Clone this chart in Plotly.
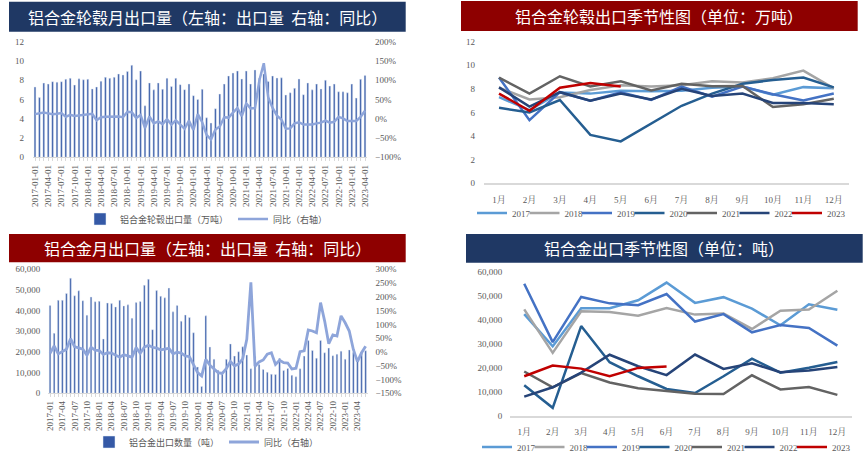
import plotly.graph_objects as go

# ---------------- data ----------------
months_cn = ["1月", "2月", "3月", "4月", "5月", "6月", "7月", "8月", "9月", "10月", "11月", "12月"]
years = ["2017", "2018", "2019", "2020", "2021", "2022", "2023"]

# 铝合金轮毂出口量（万吨）
hub_2017 = [7.3, 6.2, 7.7, 7.6, 7.85, 7.8, 7.85, 8.1, 8.2, 7.5, 8.15, 8.05]
hub_2018 = [8.1, 7.1, 7.3, 7.9, 8.3, 8.2, 8.3, 8.65, 8.55, 8.9, 9.55, 8.05]
hub_2019 = [8.96, 5.35, 7.72, 7.0, 7.72, 7.06, 8.2, 7.35, 8.2, 7.54, 7.02, 7.61]
hub_2020 = [6.4, 6.0, 7.06, 4.1, 3.55, 5.05, 6.57, 7.6, 8.44, 8.75, 8.96, 8.13]
hub_2021 = [8.96, 7.6, 9.07, 8.2, 8.65, 7.87, 8.44, 8.23, 8.25, 6.47, 6.7, 7.16]
hub_2022 = [8.13, 6.5, 7.72, 7.0, 7.6, 7.1, 8.0, 7.4, 7.6, 6.8, 6.8, 6.7]
hub_2023 = [7.6, 6.15, 8.1, 8.5, 8.2]
hub_bar_2023 = [7.6, 6.15, 8.1, 8.5]  # monthly bar chart ends at 2023-04

# 同比（%） for the hub chart, 2017-01 .. 2023-04
hub_yoy_2017 = [12, 14, 16, 14, 12, 13, 15, 5, 10, 7, 8, 10]
hub_yoy_2018 = [11, 13, -4, 4, 5, 5, 6, 6, 4, 18, 17, 2]
hub_yoy_2019 = [10, -24, 6, -12, -7, -14, -1, -15, -4, -15, -26, -5]
hub_yoy_2020 = [-29, 12, -9, -42, -54, -28, -20, 4, 3, 16, 28, 7]
hub_yoy_2021 = [40, 27, 28, 100, 144, 56, 28, 8, -2, -26, -25, -12]
hub_yoy_2022 = [-9, -15, -15, -15, -12, -10, -5, -10, -8, 5, 1, -6]
hub_yoy_2023 = [-6, -6, 5, 21]

# 铝合金出口数量（吨）
al_2017 = [42500, 29000, 45000, 45000, 48300, 55700, 47200, 49600, 44800, 37800, 46600, 44300]
al_2018 = [44500, 26300, 43700, 43400, 41800, 45000, 42300, 42800, 36300, 43900, 44400, 52300]
al_2019 = [55200, 30800, 49700, 47000, 46200, 50900, 39400, 42500, 34900, 37900, 36700, 29300]
al_2020 = [12700, 3300, 37500, 22400, 16500, 11200, 9500, 16500, 23900, 18000, 20100, 22500]
al_2021 = [18500, 11900, 17800, 13900, 11500, 10200, 9200, 9100, 16900, 11000, 12000, 8700]
al_2022 = [8000, 11900, 18000, 25500, 20700, 17000, 25600, 19600, 21900, 18200, 18900, 20400]
al_2023 = [16500, 21000, 19700, 16500, 20000, 20600]

# 同比（%） for the alloy chart, 2017-01 .. 2023-06
al_yoy_2017 = [-5, 22, -7, 1, 10, 48, 19, 15, 10, -12, 17, 7]
al_yoy_2018 = [5, -9, -3, -4, -13, -19, -10, -14, -19, 16, -5, 18]
al_yoy_2019 = [24, 17, 14, 8, 11, 13, -7, -1, -4, -14, -17, -44]
al_yoy_2020 = [-75, -87, -27, -48, -60, -75, -78, -61, -35, -50, -44, -25]
al_yoy_2021 = [46, 253, -52, -36, -29, -8, -3, -45, -30, -39, -40, -62]
al_yoy_2022 = [-59, 1, 4, 80, 76, 70, 179, 112, 30, 62, 58, 131]
al_yoy_2023 = [106, 76, 9, -35, -3, 21]

hub_season = [hub_2017, hub_2018, hub_2019, hub_2020, hub_2021, hub_2022, hub_2023]
al_season = [al_2017, al_2018, al_2019, al_2020, al_2021, al_2022, al_2023]
season_colors = ["#5B9BD5", "#A5A5A5", "#4472C4", "#255E91", "#636363", "#264478", "#C00000"]

# monthly series assembled from the yearly lists
hub_bar = hub_2017 + hub_2018 + hub_2019 + hub_2020 + hub_2021 + hub_2022 + hub_bar_2023
hub_yoy = hub_yoy_2017 + hub_yoy_2018 + hub_yoy_2019 + hub_yoy_2020 + hub_yoy_2021 + hub_yoy_2022 + hub_yoy_2023
al_bar = al_2017 + al_2018 + al_2019 + al_2020 + al_2021 + al_2022 + al_2023
al_yoy = al_yoy_2017 + al_yoy_2018 + al_yoy_2019 + al_yoy_2020 + al_yoy_2021 + al_yoy_2022 + al_yoy_2023

hub_dates = [f"{2017 + i // 12}-{i % 12 + 1:02d}-01" for i in range(len(hub_bar))]
al_dates = [f"{2017 + i // 12}-{i % 12 + 1:02d}" for i in range(len(al_bar))]
hub_ticktext = [d if i % 3 == 0 else "" for i, d in enumerate(hub_dates)]
al_ticktext = [d if i % 3 == 0 and i < 76 else "" for i, d in enumerate(al_dates)]

# ---------------- style ----------------
W, H = 866, 459
NAVY = "#1F3864"
DRED = "#8E0000"
BAR = "#3559A6"
YOY = "#8EA5DA"
GRAY = "#595959"
CLEAR = "rgba(0,0,0,0)"
SERIF = "Liberation Serif, Noto Serif CJK SC, Noto Sans CJK SC, serif"
CJK = "Noto Sans CJK SC, sans-serif"


def px(x):
    return x / W


def py(y):
    return 1 - y / H


tickfont = dict(family=SERIF, size=9, color=GRAY)
legend_common = dict(xanchor="left", yanchor="middle", orientation="h", bgcolor=CLEAR,
                     borderwidth=0, tracegroupgap=0)

fig = go.Figure()
legends = {}

# chart 1
fig.add_trace(go.Bar(x=hub_dates, y=hub_bar, marker_color=BAR, name="铝合金轮毂出口量（万吨）",
                     xaxis="x", yaxis="y", legend="legend"))
fig.add_trace(go.Scatter(x=hub_dates, y=hub_yoy, mode="lines", line=dict(color=YOY, width=2.5),
                         name="同比（右轴）", xaxis="x", yaxis="y2", legend="legend"))
legends["legend"] = dict(x=px(80), y=py(219), font=dict(family=CJK, size=9, color=GRAY), **legend_common)

# chart 3
fig.add_trace(go.Bar(x=al_dates, y=al_bar, marker_color=BAR, name="铝合金出口数量（吨）",
                     xaxis="x3", yaxis="y4", legend="legend2"))
fig.add_trace(go.Scatter(x=al_dates, y=al_yoy, mode="lines", line=dict(color=YOY, width=2.8),
                         name="同比（右轴）", xaxis="x3", yaxis="y5", legend="legend2"))
legends["legend2"] = dict(x=px(89), y=py(442), font=dict(family=CJK, size=9, color=GRAY), **legend_common)

# seasonal charts: one small legend per year so the entries sit close together
leg_idx = 3
for season, xa, ya, leg_x0, leg_y in [(hub_season, "x2", "y3", 472, 213),
                                      (al_season, "x4", "y6", 477, 447)]:
    for k, (yr, vals, c) in enumerate(zip(years, season, season_colors)):
        lname = f"legend{leg_idx}"
        fig.add_trace(go.Scatter(x=months_cn[:len(vals)], y=vals, mode="lines",
                                 line=dict(color=c, width=2.5), name=yr, xaxis=xa, yaxis=ya,
                                 legend=lname))
        legends[lname] = dict(x=px(leg_x0 + 52.5 * k), y=py(leg_y),
                              font=dict(family=SERIF, size=9, color=GRAY), **legend_common)
        leg_idx += 1

axis_common = dict(showgrid=False, zeroline=False, tickfont=tickfont, automargin=False)


def yax(gap, **kw):
    return dict(ticks="outside", ticklen=gap, tickcolor=CLEAR, **axis_common, **kw)


month_axis = dict(type="category", categoryarray=months_cn, range=[-0.5, 11.5], showline=True,
                  linecolor="#D9D9D9", linewidth=1.5, ticks="outside", ticklen=7, tickcolor=CLEAR,
                  **axis_common)

layout = dict(
    width=W, height=H, margin=dict(l=0, r=0, t=0, b=0, autoexpand=False),
    paper_bgcolor="white", plot_bgcolor=CLEAR,
    bargap=0.6, barmode="group",
    # chart 1
    xaxis=dict(domain=[px(32.8), px(367.2)], anchor="y", type="category", tickmode="array",
               tickvals=hub_dates, ticktext=hub_ticktext, tickangle=-90, showline=True,
               linecolor="#D9D9D9", ticks="outside", ticklen=3, tickcolor="#D9D9D9", **axis_common),
    yaxis=yax(6, domain=[py(157.3), py(41.7)], anchor="x", range=[0, 12], dtick=2),
    yaxis2=yax(5, overlaying="y", side="right", anchor="x", range=[-100, 200], dtick=50,
               ticksuffix="%"),
    # chart 2
    xaxis2=dict(domain=[px(483.8), px(849)], anchor="y3", **month_axis),
    yaxis3=yax(6, domain=[py(183.3), py(41.7)], anchor="x2", range=[0, 12], dtick=2),
    # chart 3
    xaxis3=dict(domain=[px(48), px(367.7)], anchor="y4", type="category", tickmode="array",
                tickvals=al_dates, ticktext=al_ticktext, tickangle=-90, showline=True,
                linecolor="#D9D9D9", ticks="outside", ticklen=3, tickcolor="#D9D9D9", **axis_common),
    yaxis4=yax(5, domain=[py(393.3), py(269.3)], anchor="x3", range=[0, 60000], dtick=10000,
               tickformat=","),
    yaxis5=yax(5, overlaying="y4", side="right", anchor="x3", range=[-150, 300], dtick=50,
               ticksuffix="%"),
    # chart 4
    xaxis4=dict(domain=[px(510), px(851.6)], anchor="y6", **month_axis),
    yaxis6=yax(5, domain=[py(415.7), py(272.3)], anchor="x4", range=[0, 60000], dtick=10000,
               tickformat=","),
    **legends,
)

# title bars
SP = "\u00a0\u00a0"
titles = [
    (9, 405.7, 1.7, 31.7, NAVY, f"铝合金轮毂月出口量（左轴：出口量{SP}右轴：同比）"),
    (461, 857.7, 1, 31, DRED, "铝合金轮毂出口季节性图（单位：万吨）"),
    (9, 405.7, 234, 262.3, DRED, f"铝合金月出口量（左轴：出口量{SP}右轴：同比）"),
    (466, 862.7, 234, 262.7, NAVY, "铝合金出口季节性图（单位：吨）"),
]
shapes = []
annotations = []
for x0, x1, y0, y1, col, txt in titles:
    shapes.append(dict(type="rect", xref="paper", yref="paper", x0=px(x0), x1=px(x1),
                       y0=py(y1), y1=py(y0), fillcolor=col, line=dict(width=0), layer="below"))
    annotations.append(dict(xref="paper", yref="paper", x=px((x0 + x1) / 2), y=py((y0 + y1) / 2),
                            text=txt, showarrow=False, xanchor="center", yanchor="middle",
                            font=dict(family=CJK, size=16, color="white")))
layout["shapes"] = shapes
layout["annotations"] = annotations

fig.update_layout(**layout)
fig.write_html("out.html", config={"displayModeBar": False},
               post_script="document.body.style.margin='0';document.body.style.overflow='hidden';")
